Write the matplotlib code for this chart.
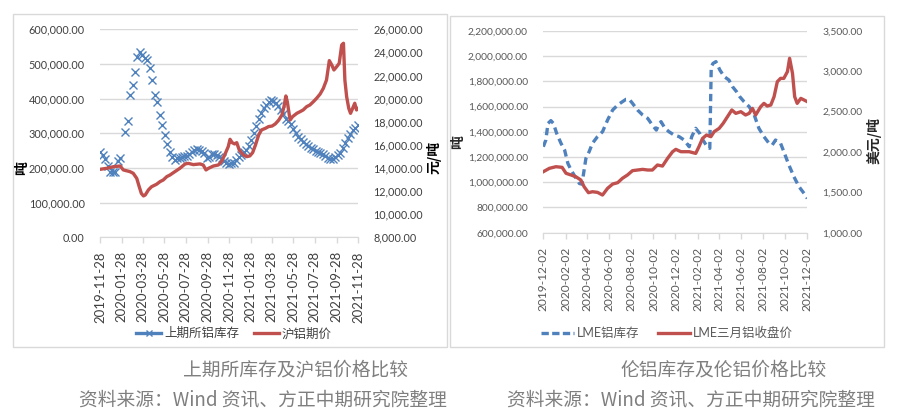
import matplotlib
matplotlib.use('Agg')
import matplotlib.pyplot as plt
from matplotlib.lines import Line2D
from matplotlib.patches import Rectangle
from matplotlib.ticker import FuncFormatter
import numpy as np
import pandas as pd

plt.rcParams['font.family'] = ['Lato', 'Noto Sans CJK SC', 'DejaVu Sans']

# ---------------- data: left chart (SHFE) ----------------
shfe_ticks = ['2019-11-28', '2020-01-28', '2020-03-28', '2020-05-28', '2020-07-28',
              '2020-09-28', '2020-11-28', '2021-01-28', '2021-03-28', '2021-05-28',
              '2021-07-28', '2021-09-28', '2021-11-28']
shfe_inv_start = '2019-11-29'
shfe_inv = [247, 238, 225, 205, 189, 189, 189, 220, 228, np.nan,
            303, 336, 410, 439, 478, 521, 534, 526, 518, 511,
            487, 454, 410, 389, 353, 324, 295, 268, 247, 232,
            223, 228, 229, 233,
            235, 234, 240, 247, 252, 254, 253, 250, 242, 230,
            232, 240, 241, 236, 233, 228, 220, 213, 211, 213,
            215, 222, 232, 238, 245, 252, 263, 280, 300, 320,
            340, 358, 372, 381, 390, 395, 393, 388, 380, 368,
            355, 342, 335, 328, 313, 300, 290, 284, 275, 268,
            263, 258, 254, 249, 245, 243, 240, 234, 228, 225,
            227, 232, 236, 244, 258, 272, 286, 298, 310, 316, 325]
shfe_inv = [v * 1000 for v in shfe_inv]

shfe_price_dates = ['2019-11-28', '2019-12-17', '2020-01-05', '2020-01-24', '2020-02-02',
                    '2020-02-21', '2020-03-01', '2020-03-11', '2020-03-18', '2020-03-24',
                    '2020-03-30', '2020-04-04', '2020-04-13', '2020-04-22', '2020-05-06',
                    '2020-05-16', '2020-05-25', '2020-06-04', '2020-06-13', '2020-06-23',
                    '2020-07-11', '2020-07-26', '2020-08-04', '2020-08-18', '2020-09-06',
                    '2020-09-15', '2020-09-23', '2020-09-30', '2020-10-14', '2020-10-28',
                    '2020-11-06', '2020-11-16', '2020-11-25', '2020-11-30', '2020-12-06',
                    '2020-12-13', '2020-12-19', '2020-12-26', '2021-01-07', '2021-01-16',
                    '2021-01-25', '2021-02-02', '2021-02-10', '2021-02-19', '2021-02-27',
                    '2021-03-10', '2021-03-19', '2021-03-29', '2021-04-07', '2021-04-17',
                    '2021-04-26', '2021-05-02', '2021-05-07', '2021-05-11', '2021-05-19',
                    '2021-05-26', '2021-06-07', '2021-06-16', '2021-06-25', '2021-07-05',
                    '2021-07-14', '2021-07-24', '2021-08-02', '2021-08-12', '2021-08-21',
                    '2021-08-30', '2021-09-07', '2021-09-14', '2021-09-20', '2021-09-28',
                    '2021-10-05', '2021-10-12', '2021-10-17', '2021-10-21', '2021-10-26',
                    '2021-11-01', '2021-11-06', '2021-11-12', '2021-11-18', '2021-11-23',
                    '2021-11-28']
shfe_price = [13880, 13970, 14110, 14170, 13830, 13680, 13540, 13100, 12380, 11800,
              11580, 11660, 12100, 12380, 12590, 12820, 12960, 13250, 13390, 13600,
              13970, 14350, 14400, 14290, 14350, 14260, 13830, 13970, 14170, 14260,
              14550, 15210, 15850, 16480, 16190, 16080, 16190, 15560, 15120, 14980,
              15040, 15330, 15990, 16850, 17290, 17430, 17580, 17630, 17810, 18150,
              18590, 19360, 20230, 19740, 18150, 18440, 18730, 18870, 19020, 19310,
              19450, 19740, 20030, 20400, 20890, 21610, 23290, 22910, 22480, 22770,
              23060, 24640, 24790, 21610, 20170, 19160, 18730, 19160, 19600, 19020,
              19160]

# ---------------- data: right chart (LME) ----------------
lme_ticks = ['2019-12-02', '2020-02-02', '2020-04-02', '2020-06-02', '2020-08-02',
             '2020-10-02', '2020-12-02', '2021-02-02', '2021-04-02', '2021-06-02',
             '2021-08-02', '2021-10-02', '2021-12-02']
lme_inv_dates = ['2019-12-02', '2019-12-09', '2019-12-15', '2019-12-23', '2019-12-30',
                 '2020-01-08', '2020-01-20', '2020-01-30', '2020-02-08', '2020-02-17',
                 '2020-02-28', '2020-03-11', '2020-03-18', '2020-03-29', '2020-04-07',
                 '2020-04-16', '2020-04-30', '2020-05-14', '2020-05-28', '2020-06-11',
                 '2020-06-25', '2020-07-08', '2020-07-18', '2020-07-27', '2020-08-05',
                 '2020-08-19', '2020-09-02', '2020-09-16', '2020-09-29', '2020-10-10',
                 '2020-10-16', '2020-10-23', '2020-11-03', '2020-11-14', '2020-11-28',
                 '2020-12-12', '2020-12-26', '2021-01-09', '2021-01-16', '2021-01-27',
                 '2021-02-07', '2021-02-16', '2021-02-28', '2021-03-07', '2021-03-11',
                 '2021-03-16', '2021-03-24', '2021-04-04', '2021-04-16', '2021-04-29',
                 '2021-05-09', '2021-05-20', '2021-05-29', '2021-06-10', '2021-06-24',
                 '2021-07-08', '2021-07-21', '2021-08-04', '2021-08-18', '2021-08-27',
                 '2021-09-05', '2021-09-19', '2021-09-28', '2021-10-12', '2021-10-26',
                 '2021-11-09', '2021-11-23', '2021-12-02']
lme_inv = [1282, 1335, 1467, 1489, 1467, 1388, 1309, 1256, 1150, 1097,
           1044, 990, 985, 1190, 1243, 1309, 1362, 1401, 1494, 1573,
           1613, 1639, 1658, 1658, 1626, 1573, 1534, 1507, 1454, 1414,
           1454, 1481, 1428, 1401, 1375, 1362, 1335, 1282, 1362, 1428,
           1388, 1335, 1282, 1269, 1917, 1943, 1957, 1890, 1838, 1811,
           1758, 1719, 1679, 1639, 1600, 1534, 1428, 1362, 1309, 1296,
           1335, 1309, 1243, 1137, 1044, 965, 912, 872]
lme_inv = [v * 1000 for v in lme_inv]

lme_price_dates = ['2019-12-02', '2019-12-19', '2020-01-06', '2020-01-23', '2020-02-03',
                   '2020-02-17', '2020-03-01', '2020-03-15', '2020-03-24', '2020-04-05',
                   '2020-04-16', '2020-04-30', '2020-05-14', '2020-05-28', '2020-06-11',
                   '2020-06-25', '2020-07-08', '2020-07-22', '2020-08-05', '2020-08-19',
                   '2020-09-02', '2020-09-16', '2020-09-29', '2020-10-13', '2020-10-27',
                   '2020-11-10', '2020-11-24', '2020-12-03', '2020-12-17', '2020-12-26',
                   '2021-01-09', '2021-01-27', '2021-02-05', '2021-02-15', '2021-02-26',
                   '2021-03-10', '2021-03-19', '2021-04-02', '2021-04-13', '2021-04-25',
                   '2021-05-07', '2021-05-18', '2021-06-01', '2021-06-14', '2021-06-24',
                   '2021-07-03', '2021-07-12', '2021-07-26', '2021-08-04', '2021-08-13',
                   '2021-08-23', '2021-09-01', '2021-09-10', '2021-09-19', '2021-09-28',
                   '2021-10-08', '2021-10-14', '2021-10-22', '2021-10-28', '2021-11-04',
                   '2021-11-14', '2021-11-23', '2021-12-02']
lme_price = [1756, 1798, 1818, 1810, 1736, 1715, 1694, 1653, 1570, 1496,
             1508, 1500, 1467, 1550, 1603, 1620, 1674, 1715, 1769, 1777,
             1785, 1777, 1777, 1839, 1826, 1921, 2004, 2033, 2004, 2004,
             2004, 1983, 2066, 2169, 2211, 2190, 2252, 2293, 2355, 2438,
             2521, 2479, 2500, 2459, 2479, 2541, 2459, 2562, 2603, 2570,
             2583, 2686, 2872, 2913, 2913, 2996, 3161, 2975, 2686, 2603,
             2665, 2645, 2624]

BLUE = '#4F81BD'
RED = '#C0504D'
GRID = '#d9d9d9'

W, H = 898, 416
fig = plt.figure(figsize=(W / 100, H / 100), dpi=100)


def fx(px):
    return px / W


def fy(py):
    return 1 - py / H


def money(x, pos):
    return f'{x:,.2f}'


def style_axes(ax, axr, ticks, lab_color, ysize, xsize):
    t = pd.to_datetime(ticks)
    ax.set_xlim(t[0], t[-1])
    ax.set_xticks(t)
    ax.set_xticklabels(ticks, rotation=90, fontsize=xsize, color=lab_color)
    ax.tick_params(axis='x', length=4, color=GRID, width=1, pad=6)
    ax.tick_params(axis='y', length=0, labelsize=ysize, labelcolor=lab_color, pad=11)
    axr.tick_params(axis='y', length=0, labelsize=ysize, labelcolor=lab_color, pad=11)
    ax.yaxis.set_major_formatter(FuncFormatter(money))
    axr.yaxis.set_major_formatter(FuncFormatter(money))
    ax.yaxis.grid(True, color=GRID, lw=1)
    ax.set_axisbelow(True)
    for s in ['top', 'left', 'right']:
        ax.spines[s].set_visible(False)
    ax.spines['bottom'].set_color(GRID)
    for s in axr.spines.values():
        s.set_visible(False)


# ---------------- left chart ----------------
ax1 = fig.add_axes([fx(100), fy(237.3), fx(258.3), (237.3 - 29.3) / H])
ax1r = ax1.twinx()
inv_dates = pd.date_range(shfe_inv_start, periods=len(shfe_inv), freq='7D')
ax1.plot(inv_dates, shfe_inv, ls='none', marker='x', ms=6, mew=1.0, color=BLUE)
ax1r.plot(pd.to_datetime(shfe_price_dates), shfe_price, color=RED, lw=2.4)
ax1.set_ylim(0, 600000)
ax1.set_yticks(np.arange(0, 600001, 100000))
ax1r.set_ylim(8000, 26000)
ax1r.set_yticks(np.arange(8000, 26001, 2000))
style_axes(ax1, ax1r, shfe_ticks, '#404040', 7.8, 9.5)

# ---------------- right chart ----------------
ax2 = fig.add_axes([fx(543.3), fy(232.7), fx(264), (232.7 - 31) / H])
ax2r = ax2.twinx()
ax2.plot(pd.to_datetime(lme_inv_dates), lme_inv, color=BLUE, lw=2.4,
         ls=(0, (2.2, 1.4)))
ax2r.plot(pd.to_datetime(lme_price_dates), lme_price, color=RED, lw=2.4)
ax2.set_ylim(600000, 2200000)
ax2.set_yticks(np.arange(600000, 2200001, 200000))
ax2r.set_ylim(1000, 3500)
ax2r.set_yticks(np.arange(1000, 3501, 500))
style_axes(ax2, ax2r, lme_ticks, '#595959', 7.4, 8.6)

# ---------------- frames ----------------
fig.add_artist(Rectangle((fx(12.7), fy(346.7)), fx(434), (346.7 - 14) / H,
                         transform=fig.transFigure, fill=False, ec=GRID, lw=1))
fig.add_artist(Rectangle((fx(449.5), fy(347)), fx(434.5), (347 - 16) / H,
                         transform=fig.transFigure, fill=False, ec=GRID, lw=1))

# ---------------- axis unit labels ----------------
fig.text(fx(22), fy(168), '吨', rotation=90, fontsize=10, fontweight='bold',
         color='#000000', ha='center', va='center', family=['Noto Sans CJK SC'])
fig.text(fx(434), fy(157), '元/吨', rotation=90, fontsize=10, fontweight='bold',
         color='#000000', ha='center', va='center', family=['Noto Sans CJK SC'])
fig.text(fx(458), fy(142), '吨', rotation=90, fontsize=10, fontweight='bold',
         color='#262626', ha='center', va='center', family=['Noto Sans CJK SC'])
fig.text(fx(874), fy(140), '美元/吨', rotation=90, fontsize=10, fontweight='bold',
         color='#262626', ha='center', va='center', family=['Noto Sans CJK SC'])

# ---------------- legends ----------------
h1 = [Line2D([], [], color=BLUE, lw=2.4, marker='x', ms=5, mew=1.0),
      Line2D([], [], color=RED, lw=2.4)]
leg1 = fig.legend(h1, ['上期所铝库存', '沪铝期价'], loc='center',
                  bbox_to_anchor=(fx(234), fy(333)), ncol=2, frameon=False,
                  fontsize=9, handlelength=2.0, columnspacing=1.2, handletextpad=0.2,
                  labelcolor='#404040')
h2 = [Line2D([], [], color=BLUE, lw=2.4, ls=(0, (2.2, 1.0))),
      Line2D([], [], color=RED, lw=2.4)]
leg2 = fig.legend(h2, ['LME铝库存', 'LME三月铝收盘价'], loc='center',
                  bbox_to_anchor=(fx(667), fy(333)), ncol=2, frameon=False,
                  fontsize=9, handlelength=2.6, columnspacing=1.5, handletextpad=0.2,
                  labelcolor='#595959')

# ---------------- captions ----------------
CAP = '#7f7f7f'
fig.text(fx(295), fy(370), '上期所库存及沪铝价格比较', fontsize=13.5, color=CAP,
         ha='center', va='center', family=['Noto Sans CJK SC'])
fig.text(fx(263), fy(400), '资料来源：Wind 资讯、方正中期研究院整理', fontsize=13.5,
         color=CAP, ha='center', va='center', family=['Noto Sans CJK SC'])
fig.text(fx(724), fy(370), '伦铝库存及伦铝价格比较', fontsize=13.5, color=CAP,
         ha='center', va='center', family=['Noto Sans CJK SC'])
fig.text(fx(691), fy(400), '资料来源：Wind 资讯、方正中期研究院整理', fontsize=13.5,
         color=CAP, ha='center', va='center', family=['Noto Sans CJK SC'])

fig.savefig('out.png', dpi=100)
